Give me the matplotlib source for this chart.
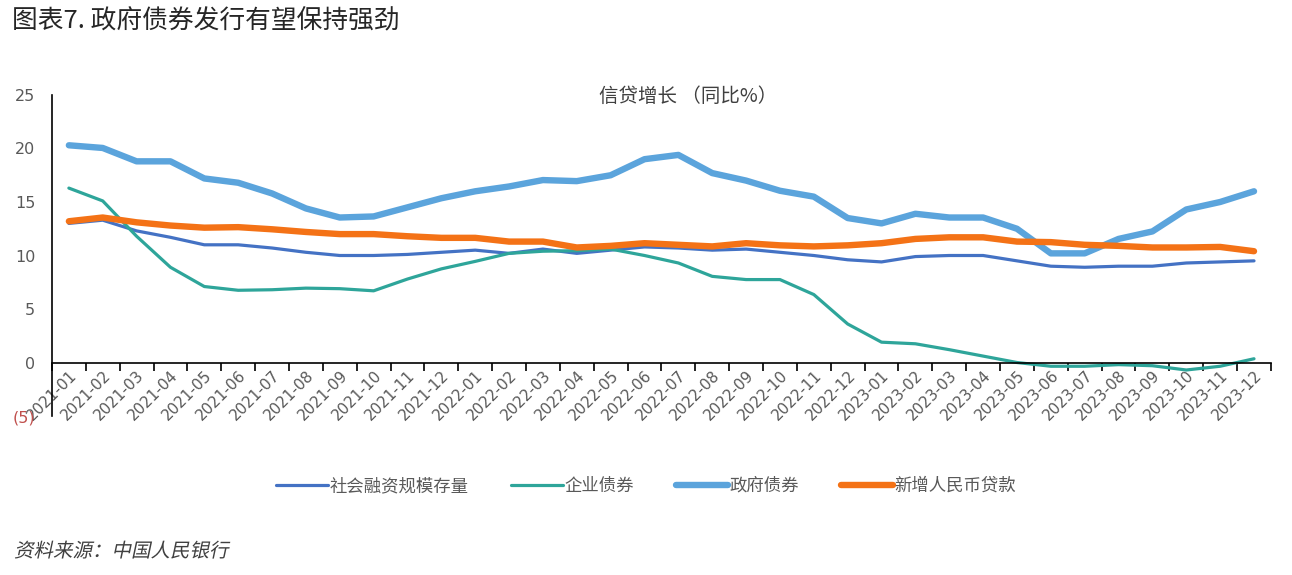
import numpy as np
import matplotlib.pyplot as plt
from matplotlib.textpath import TextPath
from matplotlib.patches import PathPatch
from matplotlib.font_manager import FontProperties
from matplotlib.transforms import Affine2D

plt.rcParams['font.family'] = ['Noto Sans CJK SC', 'DejaVu Sans']

# 月份
months = ["2021-01", "2021-02", "2021-03", "2021-04", "2021-05", "2021-06",
          "2021-07", "2021-08", "2021-09", "2021-10", "2021-11", "2021-12",
          "2022-01", "2022-02", "2022-03", "2022-04", "2022-05", "2022-06",
          "2022-07", "2022-08", "2022-09", "2022-10", "2022-11", "2022-12",
          "2023-01", "2023-02", "2023-03", "2023-04", "2023-05", "2023-06",
          "2023-07", "2023-08", "2023-09", "2023-10", "2023-11", "2023-12"]

# 同比增速 (%)
tsf_stock = [13.0, 13.3, 12.3, 11.7, 11.0, 11.0, 10.7, 10.3, 10.0, 10.0, 10.1, 10.3,
             10.5, 10.2, 10.6, 10.2, 10.5, 10.8, 10.7, 10.5, 10.6, 10.3, 10.0, 9.6,
             9.4, 9.9, 10.0, 10.0, 9.5, 9.0, 8.9, 9.0, 9.0, 9.3, 9.4, 9.5]
corp_bonds = [16.3, 15.1, 11.8, 8.9, 7.1, 6.75, 6.8, 6.95, 6.9, 6.7, 7.8, 8.75,
              9.45, 10.2, 10.4, 10.45, 10.6, 10.0, 9.3, 8.05, 7.75, 7.75, 6.35, 3.6,
              1.9, 1.75, 1.2, 0.6, 0.0, -0.35, -0.35, -0.2, -0.3, -0.7, -0.35, 0.35]
gov_bonds = [20.3, 20.05, 18.8, 18.8, 17.2, 16.8, 15.8, 14.4, 13.55, 13.65, 14.5, 15.35,
             16.0, 16.45, 17.05, 16.95, 17.5, 19.0, 19.4, 17.7, 17.0, 16.05, 15.5, 13.5,
             13.0, 13.9, 13.55, 13.55, 12.5, 10.2, 10.2, 11.55, 12.25, 14.3, 15.0, 16.0]
rmb_loans = [13.2, 13.55, 13.1, 12.8, 12.6, 12.65, 12.45, 12.2, 12.0, 12.0, 11.8, 11.65,
             11.65, 11.3, 11.3, 10.75, 10.9, 11.15, 11.0, 10.85, 11.15, 10.95, 10.85, 10.95,
             11.15, 11.55, 11.7, 11.7, 11.3, 11.25, 11.0, 10.9, 10.75, 10.75, 10.8, 10.4]

yticks = [-5, 0, 5, 10, 15, 20, 25]
ytick_labels = ["(5)", "0", "5", "10", "15", "20", "25"]

gray = '#595959'
x = np.arange(len(months))

fig = plt.figure(figsize=(12.92, 5.75), dpi=100)
ax = fig.add_axes([0.0402, 0.2765, 0.9435, 0.5583])

ax.plot(x, tsf_stock, color='#4472C4', lw=2.3, label='社会融资规模存量', solid_capstyle='round')
ax.plot(x, corp_bonds, color='#2EA59A', lw=2.3, label='企业债券', solid_capstyle='round')
ax.plot(x, gov_bonds, color='#5BA4DC', lw=4.6, label='政府债券', solid_capstyle='round')
ax.plot(x, rmb_loans, color='#F47216', lw=4.6, label='新增人民币贷款', solid_capstyle='round')

ax.set_xlim(-0.5, len(months) - 0.5)
ax.set_ylim(-5, 25)

for s in ['top', 'right']:
    ax.spines[s].set_visible(False)
ax.spines['bottom'].set_position(('data', 0))
ax.spines['left'].set_color('black')
ax.spines['bottom'].set_color('black')
ax.spines['left'].set_linewidth(1.2)
ax.spines['bottom'].set_linewidth(1.2)

ax.set_yticks(yticks)
ax.set_yticklabels(ytick_labels, family='DejaVu Sans', fontsize=11.5, color=gray)
ax.get_yticklabels()[0].set_color('#C0504D')
ax.tick_params(axis='y', length=0, pad=12)

# 分类边界上的刻度线
ax.set_xticks(np.arange(len(months) + 1) - 0.5)
ax.set_xticklabels([])
ax.tick_params(axis='x', which='major', direction='out', length=6, width=1.2, color='black')
ax.set_xticks(x, minor=True)
ax.set_xticklabels(months, minor=True, rotation=45, ha='right', va='top',
                   rotation_mode='anchor', family='DejaVu Sans', fontsize=11, color=gray)
ax.tick_params(axis='x', which='minor', length=0, pad=4)

ax.text(0.522, 0.995, '信贷增长 （同比%）', transform=ax.transAxes, ha='center', va='center',
        fontsize=14, color='#404040')

fig.text(0.009, 0.962, '图表7. 政府债券发行有望保持强劲', fontsize=18.5, color='#262626', va='center')

# 斜体来源说明（CJK 字体无斜体，手动倾斜）
src_path = TextPath((0, 0), '资料来源：中国人民银行', size=19.5,
                    prop=FontProperties(family='Noto Sans CJK SC'))
src_tr = Affine2D().skew_deg(12, 0).translate(14, 575 - 557)
fig.patches.append(PathPatch(src_path, transform=src_tr, facecolor='#404040', lw=0))

fig.legend(loc='center', bbox_to_anchor=(0.5, 0.155), ncol=4, frameon=False,
           fontsize=12.5, labelcolor=gray, handlelength=3.0, handletextpad=0.1,
           columnspacing=2.4)

plt.savefig('out.png', dpi=100)
